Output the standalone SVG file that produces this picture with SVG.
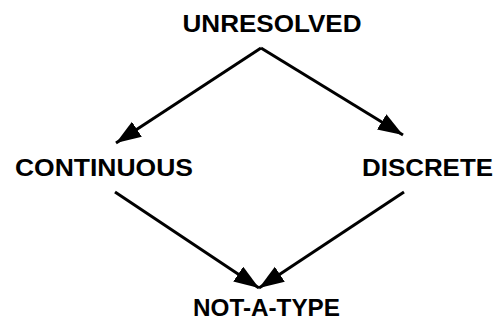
<svg xmlns="http://www.w3.org/2000/svg" width="495" height="321" viewBox="0 0 495 321">
<style>
text{font-family:"Liberation Sans",Arial,sans-serif;font-weight:bold;font-size:24.5px;fill:#000}
.c{stroke:#000;stroke-width:3;fill:none;stroke-linejoin:miter}
</style>
<defs>
<marker id="ah" markerUnits="userSpaceOnUse" markerWidth="26" markerHeight="20" refX="25" refY="9" orient="auto">
<path d="M0,0 L25,9 L0,18 Z" fill="#000"/>
</marker>
</defs>
<rect width="495" height="321" fill="#fff"/>
<g id="connectors">
<path class="c" d="M261,48 L116,143" marker-end="url(#ah)"/>
<path class="c" d="M261,48 L403,135" marker-end="url(#ah)"/>
<path class="c" d="M115,192 L259,288" marker-end="url(#ah)"/>
<path class="c" d="M404,192 L259,288" marker-end="url(#ah)"/>
</g>
<g id="unresolved"><text x="272" y="31.5" text-anchor="middle" textLength="179" lengthAdjust="spacingAndGlyphs">UNRESOLVED</text></g>
<g id="continuous"><text x="15" y="176" textLength="178" lengthAdjust="spacingAndGlyphs">CONTINUOUS</text></g>
<g id="discrete"><text x="362" y="176" textLength="131" lengthAdjust="spacingAndGlyphs">DISCRETE</text></g>
<g id="notatype"><text x="193" y="315.5" style="font-size:24px" textLength="147" lengthAdjust="spacingAndGlyphs">NOT-A-TYPE</text></g>
</svg>
